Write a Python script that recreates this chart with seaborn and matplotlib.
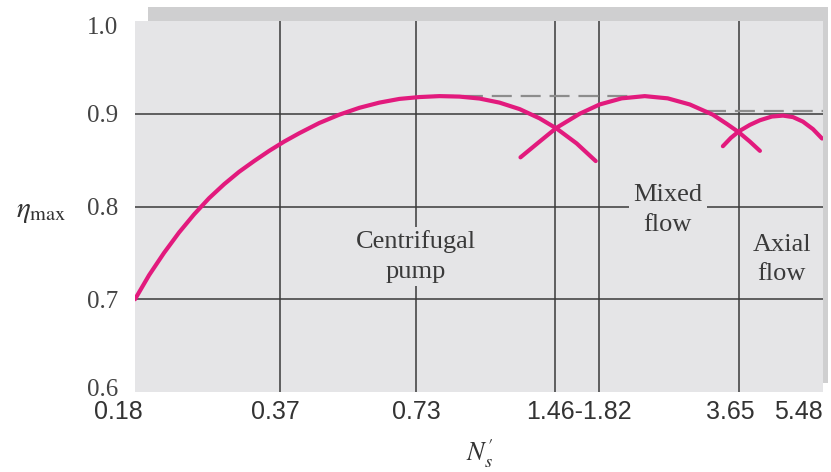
import matplotlib
matplotlib.use("Agg")
import matplotlib.pyplot as plt
import seaborn as sns
from matplotlib.patches import Rectangle
from matplotlib.ticker import NullLocator, FixedLocator
from matplotlib.transforms import ScaledTranslation

# ---------------- data ----------------
cent_ns = [0.18, 0.1931, 0.2080, 0.2242, 0.2416, 0.2604, 0.2806, 0.3024, 0.3259, 0.3513,
           0.3786, 0.4081, 0.4508, 0.4982, 0.5506, 0.6083, 0.6722, 0.7427, 0.8209, 0.9067,
           1.002, 1.107, 1.224, 1.352, 1.472, 1.626, 1.788]
cent_eta = [0.700, 0.726, 0.750, 0.772, 0.7915, 0.809, 0.824, 0.8374, 0.849, 0.860,
            0.870, 0.879, 0.890, 0.899, 0.9064, 0.912, 0.916, 0.918, 0.919, 0.9185,
            0.9164, 0.912, 0.905, 0.895, 0.884, 0.868, 0.849]

mixed_ns = [1.229, 1.352, 1.472, 1.651, 1.823, 2.035, 2.283, 2.56, 2.858, 3.205,
            3.438, 3.649, 3.855, 4.053]
mixed_eta = [0.853, 0.870, 0.885, 0.900, 0.910, 0.9166, 0.919, 0.9166, 0.910, 0.899,
             0.889, 0.880, 0.870, 0.860]

axial_ns = [3.37, 3.507, 3.649, 3.855, 4.053, 4.302, 4.547, 4.779, 5.022, 5.28, 5.523]
axial_eta = [0.865, 0.874, 0.881, 0.888, 0.893, 0.897, 0.898, 0.8964, 0.8915, 0.8834, 0.8733]

dash1_ns = [0.80, 2.10]
dash1_eta = [0.919, 0.919]
dash2_ns = [3.10, 5.55]
dash2_eta = [0.903, 0.903]

vlines_ns = [0.37, 0.73, 1.46, 1.82, 3.65]
hlines_eta = [0.7, 0.8, 0.9]

xtick_pos = [0.18, 0.37, 0.73, 1.63, 3.65, 5.48]
xtick_labels = ["0.18", "0.37", "0.73", "1.46-1.82", "3.65", "5.48"]
xtick_shift_px = [-17, -4, 0, 2, -9, -22]
ytick_pos = [0.6, 0.7, 0.8, 0.9, 1.0]
ytick_labels = ["0.6", "0.7", "0.8", "0.9", "1.0"]
ytick_shift_px = [5, 0, 0, 0, -4]

# ---------------- style ----------------
sns.set_theme(style="white")
plt.rcParams["font.family"] = ["Liberation Serif", "DejaVu Serif"]
plt.rcParams["mathtext.fontset"] = "stix"

PINK = "#e21a7d"
BG = "#e5e5e7"
SHADOW = "#cfcfd0"
GRID = "#3a3a3a"
TXT = "#3a3a3a"

W, H = 831, 472
fig = plt.figure(figsize=(W / 100, H / 100), dpi=100)
fig.patch.set_facecolor("white")

# shadow strip (top / right)
fig.patches.append(Rectangle((148 / W, (H - 383) / H), 680 / W, 376 / H,
                             transform=fig.transFigure, facecolor=SHADOW,
                             edgecolor="none", zorder=0))

ax = fig.add_axes([135 / W, (H - 392) / H, 688 / W, 371 / H])
ax.set_facecolor(BG)
ax.set_zorder(1)
for s in ax.spines.values():
    s.set_visible(False)

ax.set_xscale("log")
ax.set_xlim(0.18, 5.55)
ax.set_ylim(0.6, 1.0)

for v in vlines_ns:
    ax.axvline(v, color=GRID, lw=1.1, zorder=1)
for h in hlines_eta:
    ax.axhline(h, color=GRID, lw=1.1, zorder=1)

# dashed reference lines
for xs, ys in [(dash1_ns, dash1_eta), (dash2_ns, dash2_eta)]:
    ln, = ax.plot(xs, ys, color="#8c8c8c", lw=1.6, zorder=2)
    ln.set_dashes((9, 4))

# curves
for xs, ys in [(cent_ns, cent_eta), (mixed_ns, mixed_eta), (axial_ns, axial_eta)]:
    sns.lineplot(x=xs, y=ys, ax=ax, color=PINK, lw=3.0, sort=False,
                 estimator=None, zorder=3)
for ln in ax.get_lines():
    ln.set_solid_joinstyle("round")

# labels inside plot
ax.text(0.73, 0.746, "Centrifugal\npump", ha="center", va="center",
        fontsize=19, color=TXT, linespacing=1.45,
        bbox=dict(facecolor=BG, edgecolor="none", pad=2), zorder=4)
ax.text(2.56, 0.796, "Mixed\nflow", ha="center", va="center",
        fontsize=19, color=TXT, linespacing=1.5,
        bbox=dict(facecolor=BG, edgecolor="none", pad=3), zorder=4)
ax.text(4.52, 0.743, "Axial\nflow", ha="center", va="center",
        fontsize=19, color=TXT, linespacing=1.4,
        bbox=dict(facecolor=BG, edgecolor="none", pad=2), zorder=4)

# ticks
ax.xaxis.set_major_locator(FixedLocator(xtick_pos))
ax.xaxis.set_minor_locator(NullLocator())
ax.set_xticklabels(xtick_labels, fontsize=18, color="#333333",
                   family=["Liberation Sans", "DejaVu Sans"])
ax.set_yticks(ytick_pos)
ax.set_yticklabels(ytick_labels, fontsize=18, color="#444444")
ax.tick_params(axis="x", length=0, pad=6)
ax.tick_params(axis="y", length=0, pad=12)
for lab, dx in zip(ax.get_xticklabels(), xtick_shift_px):
    lab.set_transform(lab.get_transform() + ScaledTranslation(dx / 100, 0, fig.dpi_scale_trans))
for lab, dy in zip(ax.get_yticklabels(), ytick_shift_px):
    lab.set_transform(lab.get_transform() + ScaledTranslation(0, dy / 100, fig.dpi_scale_trans))

ax.set_xlabel("")
ax.set_ylabel("")
fig.text(16 / W, (H - 212) / H, r"$\eta_{\rm max}$", fontsize=21, color="#333333",
         ha="left", va="center")
fig.text(480 / W, (H - 454) / H, r"$N^{\prime}_{s}$", fontsize=19, color="#333333",
         ha="center", va="center")

fig.savefig("out.png", dpi=100, facecolor="white")
